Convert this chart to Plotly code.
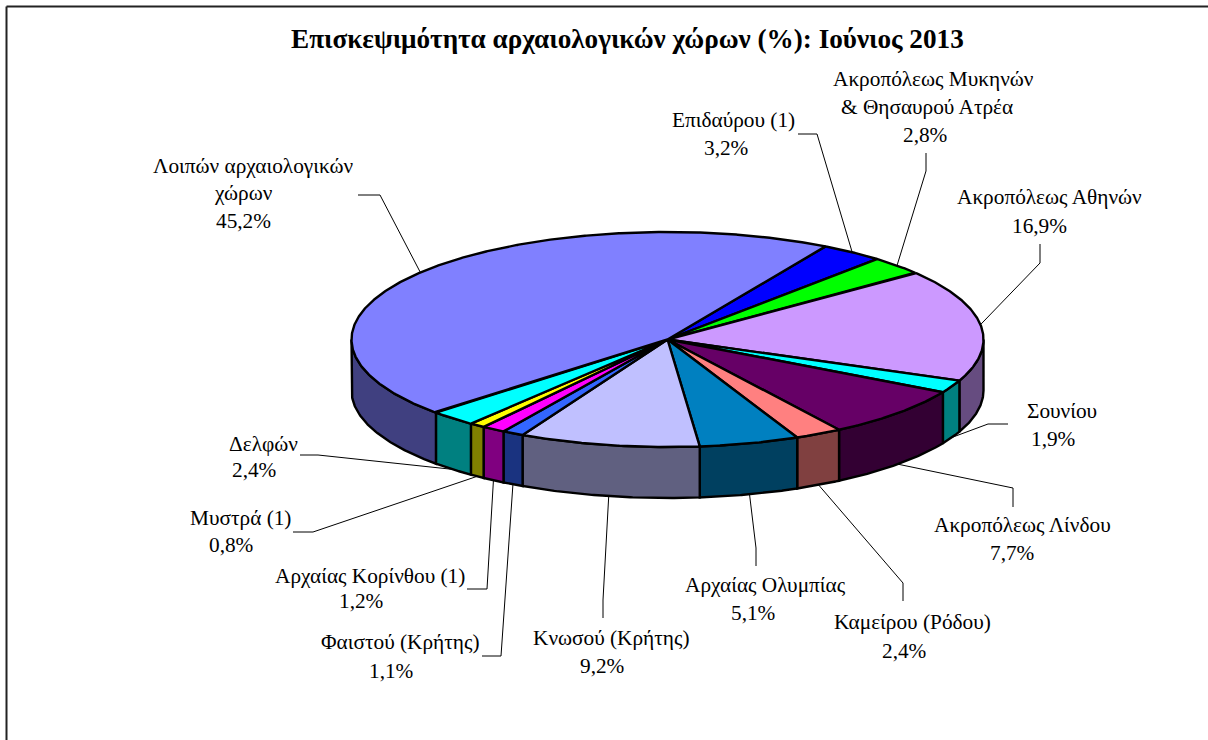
import numpy as np
import plotly.graph_objects as go

# ---- data (clockwise, starting at the Epidavros slice) ----
title = "Επισκεψιμότητα αρχαιολογικών χώρων (%): Ιούνιος 2013"
label_lines = [
    ["Επιδαύρου (1)"],
    ["Ακροπόλεως Μυκηνών", "& Θησαυρού Ατρέα"],
    ["Ακροπόλεως Αθηνών"],
    ["Σουνίου"],
    ["Ακροπόλεως Λίνδου"],
    ["Καμείρου (Ρόδου)"],
    ["Αρχαίας Ολυμπίας"],
    ["Κνωσού (Κρήτης)"],
    ["Φαιστού (Κρήτης)"],
    ["Αρχαίας Κορίνθου (1)"],
    ["Μυστρά (1)"],
    ["Δελφών"],
    ["Λοιπών αρχαιολογικών", "χώρων"],
]
values = [3.2, 2.8, 16.9, 1.9, 7.7, 2.4, 5.1, 9.2, 1.1, 1.2, 0.8, 2.4, 45.2]
top_colors = ["#0000FF", "#00FF00", "#CC99FF", "#00FFFF", "#660066", "#FF8080", "#0080C0",
              "#C0C0FF", "#3366FF", "#FF00FF", "#FFFF00", "#00FFFF", "#8080FF"]
side_colors = ["#000080", "#008000", "#664C80", "#008080", "#330033", "#804040", "#004060",
               "#606080", "#1A3380", "#800080", "#808000", "#008080", "#404080"]

# ---- layout constants (page pixels) ----
W, H = 1208, 740
CX, CY, RX, RY, DEPTH = 667.5, 339.5, 316.0, 107.5, 51.0
START_DEG = 30.0
FONT = "Liberation Serif"
LABEL_SIZE = 21.3
TITLE_SIZE = 27.2
# per slice: (centre x, y) of each text line, the last one being the percentage
text_pos = [
    [(733, 120), (726, 148)],
    [(933, 79), (927, 107), (925, 135)],
    [(1049, 197), (1039, 226)],
    [(1062, 411), (1053, 439)],
    [(1022, 525), (1012, 553)],
    [(912, 622), (904, 651)],
    [(765, 585), (753, 613)],
    [(611, 638), (602, 666)],
    [(400, 642), (391, 671)],
    [(370, 576), (361, 601)],
    [(240, 518), (231, 545)],
    [(263, 444), (254, 470)],
    [(253, 166), (243, 193), (243, 221)],
]
# per slice: leader-line points running from the text to the elbow
leader_pts = [
    [(798, 134), (817, 134)],
    [(926, 153), (926, 171)],
    [(1040, 244), (1040, 263)],
    [(1008, 424), (988, 424)],
    [(1013, 507), (1013, 488)],
    [(903, 601), (903, 583)],
    [(756, 566), (756, 548)],
    [(603, 618), (603, 600)],
    [(482, 656), (501, 656)],
    [(467, 589), (487, 589)],
    [(293, 532), (313, 532)],
    [(300, 455), (318, 455)],
    [(358, 195), (380, 195)],
]


def edge(deg, drop=0.0):
    t = np.radians(deg)
    return CX + RX * np.sin(t), CY - RY * np.cos(t) + drop


total = sum(values)
fractions = np.cumsum([0.0] + values) / total
angles = START_DEG + fractions * 360.0

fig = go.Figure()


def poly(xs, ys, fill):
    fig.add_trace(go.Scatter(
        x=list(xs), y=list(ys), mode="lines", fill="toself", fillcolor=fill,
        line=dict(color="black", width=2.4), hoverinfo="skip", showlegend=False))


# leader lines
for i, pts in enumerate(leader_pts):
    mid = (angles[i] + angles[i + 1]) / 2
    m = mid % 360
    ax, ay = edge(mid, DEPTH if 90 < m < 270 else 0.0)
    fig.add_trace(go.Scatter(
        x=[p[0] for p in pts] + [ax], y=[p[1] for p in pts] + [ay], mode="lines",
        line=dict(color="black", width=1), hoverinfo="skip", showlegend=False))

# side walls (only the front half of the rim is visible)
for i in range(len(values)):
    a0, a1 = max(angles[i], 90.0), min(angles[i + 1], 270.0)
    if a1 <= a0:
        continue
    arc = np.linspace(a0, a1, 80)
    xt, yt = edge(arc)
    xb, yb = edge(arc[::-1], DEPTH)
    poly(np.r_[xt, xb, xt[0]], np.r_[yt, yb, yt[0]], side_colors[i])

# top faces
for i in range(len(values)):
    arc = np.linspace(angles[i], angles[i + 1], max(4, int(values[i] * 12)))
    xt, yt = edge(arc)
    poly(np.r_[CX, xt, CX], np.r_[CY, yt, CY], top_colors[i])

# texts
annotations = [dict(x=627, y=39, text="<b>" + title + "</b>", showarrow=False, xanchor="center",
                    yanchor="middle", font=dict(family=FONT, size=TITLE_SIZE, color="black"))]
for lines, val, pos in zip(label_lines, values, text_pos):
    texts = lines + [f"{val:.1f}".replace(".", ",") + "%"]
    for t, (x, y) in zip(texts, pos):
        annotations.append(dict(x=x, y=y, text=t, showarrow=False, xanchor="center", yanchor="middle",
                                font=dict(family=FONT, size=LABEL_SIZE, color="black")))

fig.update_layout(
    width=W, height=H, margin=dict(l=0, r=0, t=0, b=0),
    paper_bgcolor="white", plot_bgcolor="white", showlegend=False,
    xaxis=dict(range=[0, W], visible=False, fixedrange=True),
    yaxis=dict(range=[H, 0], visible=False, fixedrange=True),
    annotations=annotations,
    shapes=[
        dict(type="line", xref="x", yref="y", x0=6.5, x1=6.5, y0=6.5, y1=H, line=dict(color="#222222", width=2)),
        dict(type="line", xref="x", yref="y", x0=6.5, x1=W, y0=6.5, y1=6.5, line=dict(color="#222222", width=2)),
    ],
)
fig.write_html("out.html", config={"displayModeBar": False},
               post_script="document.body.style.margin='0';document.body.style.overflow='hidden';")
